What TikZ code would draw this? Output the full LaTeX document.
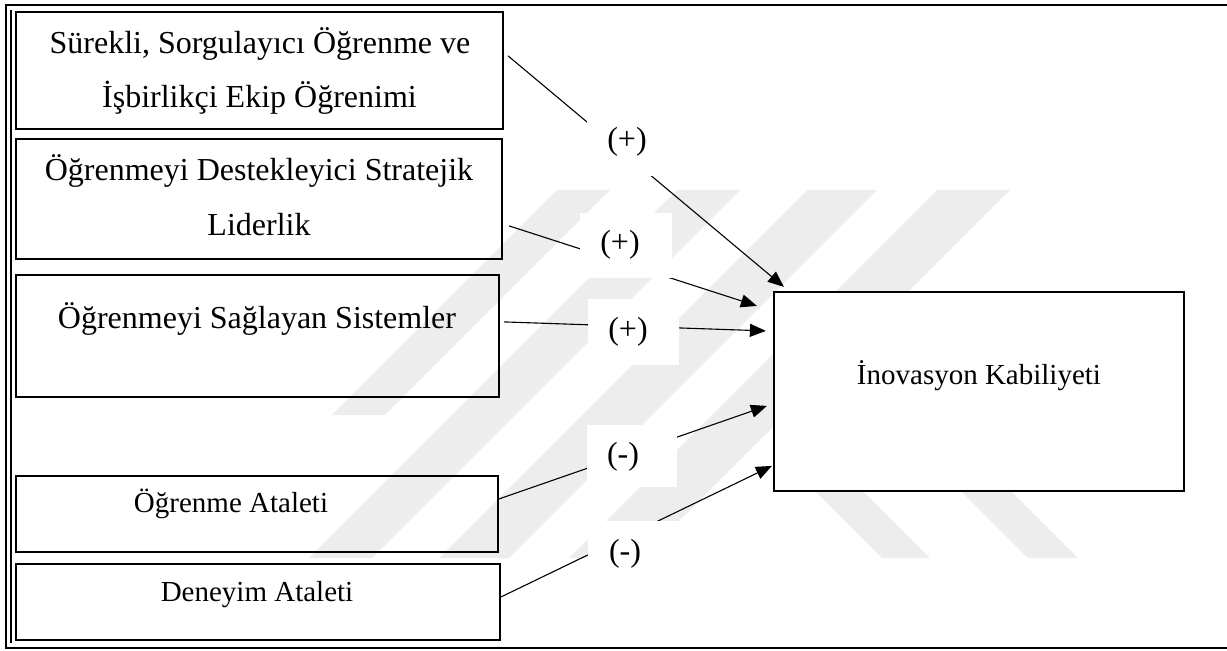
\documentclass[tikz,border=0pt]{standalone}
\usepackage{fontspec}
\setmainfont{Liberation Serif}
\usetikzlibrary{arrows.meta,calc}
\begin{document}
\begin{tikzpicture}[x=0.5pt,y=-0.5pt,
  box/.style={draw, line width=1.1pt, rectangle, inner sep=0pt},
  txt/.style={anchor=base, inner sep=0pt, font=\fontsize{16}{19}\selectfont},
  stxt/.style={anchor=base, inner sep=0pt, font=\fontsize{14.5}{17}\selectfont},
  lbox/.style={fill=white, draw=none, rectangle, inner sep=0pt},
  conn/.style={line width=0.55pt, -{Triangle[length=8pt,width=6.5pt]}},
  wm/.style={fill=black!7, draw=none},
  frameline/.style={line width=1pt}
]
\useasboundingbox (0,0) rectangle (1227,650);
% watermark
\fill[wm] (557,190) -- (610,190) -- (385,415) -- (332,415) -- cycle;
\fill[wm] (677,190) -- (740,190) -- (372,558) -- (309,558) -- cycle;
\fill[wm] (807,190) -- (877,190) -- (509,558) -- (439,558) -- cycle;
\fill[wm] (937,190) -- (1010,190) -- (642,558) -- (569,558) -- cycle;
\fill[wm] (815,491) -- (863,491) -- (930,558) -- (882,558) -- cycle;
\fill[wm] (961,491) -- (1011,491) -- (1078,558) -- (1028,558) -- cycle;
% frame
\draw[frameline] (1227,5) -- (6,5) -- (6,648) -- (1227,648);
\draw[frameline] (11,10) -- (11,643);
% boxes
\node[box, minimum width=243.5pt, minimum height=58.5pt] (b1) at (259.5,70.5) {};
\node[box, minimum width=243pt, minimum height=60pt] (b2) at (259,199) {};
\node[box, minimum width=241.5pt, minimum height=61pt] (b3) at (257.5,336) {};
\node[box, minimum width=241pt, minimum height=38pt] (b4) at (257,514) {};
\node[box, minimum width=242pt, minimum height=38pt] (b5) at (258,602) {};
\node[box, fill=white, minimum width=205pt, minimum height=99.5pt] (b6) at (979,391.5) {};
% texts
\node[txt] (t1a) at (260,53) {Sürekli, Sorgulayıcı Öğrenme ve};
\node[txt] (t1b) at (259.5,107) {İşbirlikçi Ekip Öğrenimi};
\node[txt] (t2a) at (259,180) {Öğrenmeyi Destekleyici Stratejik};
\node[txt] (t2b) at (259,235) {Liderlik};
\node[txt] (t3) at (257,328) {Öğrenmeyi Sağlayan Sistemler};
\node[stxt] (t4) at (231,512) {Öğrenme Ataleti};
\node[stxt] (t5) at (257,601) {Deneyim Ataleti};
\node[stxt] (t6) at (979,384) {İnovasyon Kabiliyeti};
% connectors
\draw[conn] ($(b1.north east)+(4,45)$) -- ($(b6.north west)+(11,-4)$);
\draw[conn] ($(b2.north east)+(6,88)$) -- ($(b6.north west)+(-16,15)$);
\draw[conn] ($(b3.north east)+(4,48)$) -- ($(b6.north west)+(-7,40)$);
\draw[conn] ($(b4.north east)+(0,24)$) -- ($(b6.north west)+(-6,115)$);
\draw[conn] ($(b5.north east)+(0,34)$) -- ($(b6.north west)+(-1,175)$);
% label boxes
\node[lbox, minimum width=45pt, minimum height=33pt] (lb1) at (632,143) {};
\node[lbox, minimum width=46pt, minimum height=32.5pt] (lb2) at (626,245.5) {};
\node[lbox, minimum width=45.5pt, minimum height=33pt] (lb3) at (633.5,332) {};
\node[lbox, minimum width=45pt, minimum height=31pt] (lb4) at (632,456) {};
\node[lbox, minimum width=45pt, minimum height=33pt] (lb5) at (633,554) {};
% labels
\node[txt] (l1) at (627,149) {(+)};
\node[txt] (l2) at (620,252) {(+)};
\node[txt] (l3) at (628,339) {(+)};
\node[txt] (l4) at (623,464) {(-)};
\node[txt] (l5) at (625,561) {(-)};
\end{tikzpicture}
\end{document}
